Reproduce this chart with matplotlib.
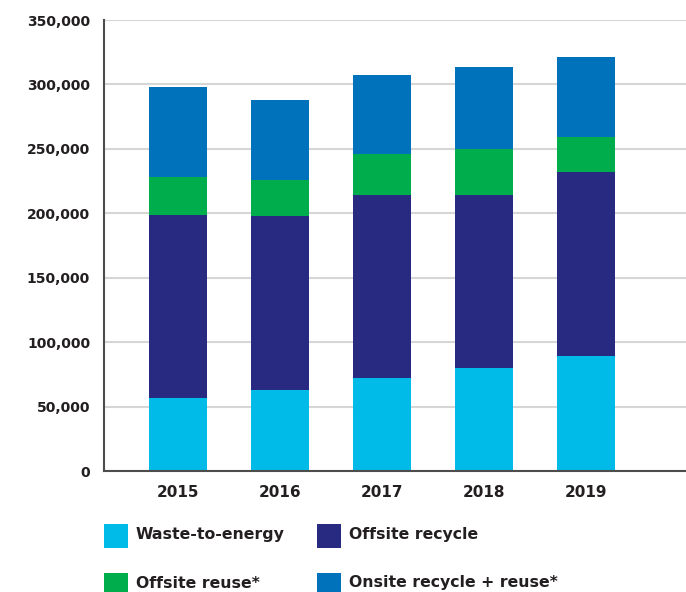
import numpy as np
import matplotlib
matplotlib.use('Agg')
import matplotlib.pyplot as plt
from matplotlib.patches import Rectangle
from matplotlib.ticker import FuncFormatter

years = ['2015', '2016', '2017', '2018', '2019']
waste_to_energy = [57000, 63000, 72500, 80000, 89500]
offsite_recycle = [142000, 135000, 142000, 134500, 143000]
offsite_reuse = [29000, 28000, 31500, 35500, 27000]
onsite_recycle_reuse = [70000, 62000, 61000, 63500, 62000]

labels = ['Waste-to-energy', 'Offsite recycle', 'Offsite reuse*', 'Onsite recycle + reuse*']
colors = ['#00BBE7', '#282A81', '#00AD4D', '#0071BB']
txt = '#231F20'

plt.rcParams['font.family'] = ['DejaVu Sans']

fig = plt.figure(figsize=(6.86, 5.92), dpi=100)
ax = fig.add_axes([0.1516, 0.2039, 0.8484, 0.7623])

x = np.arange(len(years))
series = [waste_to_energy, offsite_recycle, offsite_reuse, onsite_recycle_reuse]
bottom = np.zeros(len(years))
for vals, c in zip(series, colors):
    ax.bar(x, vals, width=0.57, bottom=bottom, color=c, zorder=3)
    bottom += np.array(vals)

ax.set_xlim(-0.727, 4.98)
ax.set_ylim(0, 350000)
ax.set_yticks(np.arange(0, 350001, 50000))
ax.yaxis.set_major_formatter(FuncFormatter(lambda v, p: '{:,.0f}'.format(v)))
ax.set_xticks(x)
ax.set_xticklabels(years)
ax.grid(axis='y', color='#D6D6D6', linewidth=1.5, zorder=0)
for s in ['top', 'right']:
    ax.spines[s].set_visible(False)
for s in ['left', 'bottom']:
    ax.spines[s].set_color('#4D4D4D')
    ax.spines[s].set_linewidth(1.5)
    ax.spines[s].set_zorder(4)
ax.tick_params(axis='y', length=0, pad=10, labelsize=10, labelcolor=txt)
ax.tick_params(axis='x', length=0, pad=10, labelsize=11, labelcolor=txt)
for t in ax.get_yticklabels() + ax.get_xticklabels():
    t.set_fontweight('bold')

# legend, drawn by hand (pixel positions converted to figure coords)
W, H = 686.0, 592.0
sq = 24
for i, (lab, c) in enumerate(zip(labels, colors)):
    col, row = i % 2, i // 2
    x0 = 104 + col * 213
    y0 = 524 + row * 49
    fig.add_artist(Rectangle((x0 / W, 1 - (y0 + sq) / H), sq / W, sq / H,
                             transform=fig.transFigure, color=c, lw=0))
    fig.text((x0 + 32) / W, 1 - (y0 + 10) / H, lab, fontsize=11.3,
             fontweight='bold', color=txt, va='center', ha='left')

fig.savefig('out.png', dpi=100)
